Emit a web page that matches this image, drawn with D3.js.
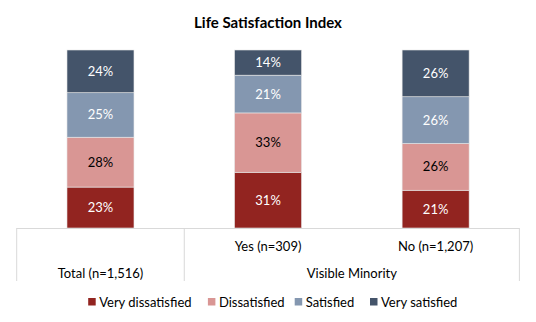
<!DOCTYPE html>
<html><head><meta charset="utf-8">
<script src="https://cdn.jsdelivr.net/npm/d3@7"></script>
<style>body{margin:0;background:#fff;}svg{display:block;font-family:Lato,"Open Sans",sans-serif;}</style>
</head><body>
<svg id="c" width="536" height="322"></svg>
<script>
const title = "Life Satisfaction Index";
const categories = ["Total (n=1,516)", "Yes (n=309)", "No (n=1,207)"];
const groupLabel = "Visible Minority";
const seriesNames = ["Very dissatisfied", "Dissatisfied", "Satisfied", "Very satisfied"];
const veryDissatisfied = [23, 31, 21];
const dissatisfied = [28, 33, 26];
const satisfied = [25, 21, 26];
const verySatisfied = [24, 14, 26];
const colors = ["#922420", "#D99694", "#8497B0", "#44546A"];
const labelColors = ["#ffffff", "#000000", "#ffffff", "#ffffff"];

const svg = d3.select("#c");
const W = 536;
const plot = {left: 16.7, right: 519.4, top: 50, bottom: 228};

const rows = categories.map((c, i) => ({
  cat: c,
  "Very dissatisfied": veryDissatisfied[i],
  "Dissatisfied": dissatisfied[i],
  "Satisfied": satisfied[i],
  "Very satisfied": verySatisfied[i]
}));
const stacked = d3.stack().keys(seriesNames).offset(d3.stackOffsetExpand)(rows);

const x = d3.scaleBand().domain(categories).range([plot.left, plot.right]).paddingInner(0).paddingOuter(0);
const barW = 67;
const y = d3.scaleLinear().domain([0, 1]).range([plot.bottom, plot.top]);

svg.append("text").attr("x", W/2).attr("y", 28).attr("text-anchor", "middle")
  .attr("font-size", 15).attr("font-weight", "bold").attr("fill", "#000").text(title);

const g = svg.append("g");
stacked.forEach((s, si) => {
  s.forEach((d, i) => {
    const cx = x(categories[i]) + x.bandwidth()/2;
    g.append("rect")
      .attr("x", cx - barW/2).attr("width", barW)
      .attr("y", y(d[1])).attr("height", y(d[0]) - y(d[1]))
      .attr("fill", colors[si]).attr("stroke", "#e8e8e8").attr("stroke-width", 0.6);
    g.append("text")
      .attr("x", cx).attr("y", (y(d[0]) + y(d[1]))/2 + 4.5)
      .attr("text-anchor", "middle").attr("font-size", 13)
      .attr("fill", labelColors[si]).text(d.data[seriesNames[si]] + "%");
  });
});

// category axis box
const axisColor = "#d9d9d9";
const boxBottom = 281;
svg.append("line").attr("x1", plot.left).attr("x2", plot.right).attr("y1", plot.bottom + 0.5).attr("y2", plot.bottom + 0.5).attr("stroke", axisColor);
const edges = [plot.left, x(categories[1]), plot.right];
edges.forEach(e => svg.append("line").attr("x1", e).attr("x2", e).attr("y1", plot.bottom).attr("y2", boxBottom).attr("stroke", axisColor));

svg.append("text").attr("x", x(categories[0]) + x.bandwidth()/2).attr("y", 277.5).attr("text-anchor", "middle").attr("font-size", 13).attr("fill", "#000").text(categories[0]);
[1, 2].forEach(i => svg.append("text").attr("x", x(categories[i]) + x.bandwidth()/2).attr("y", 251).attr("text-anchor", "middle").attr("font-size", 13).attr("fill", "#000").text(categories[i]));
svg.append("text").attr("x", (x(categories[1]) + plot.right)/2).attr("y", 277.5).attr("text-anchor", "middle").attr("font-size", 13).attr("fill", "#000").text(groupLabel);

// legend
const legendX = [88.2, 207.9, 294.7, 370];
seriesNames.forEach((n, i) => {
  svg.append("rect").attr("x", legendX[i]).attr("y", 298).attr("width", 7.5).attr("height", 7.5).attr("fill", colors[i]);
  svg.append("text").attr("x", legendX[i] + 11).attr("y", 306.5).attr("font-size", 13).attr("fill", "#000").text(n);
});
</script>
</body></html>
